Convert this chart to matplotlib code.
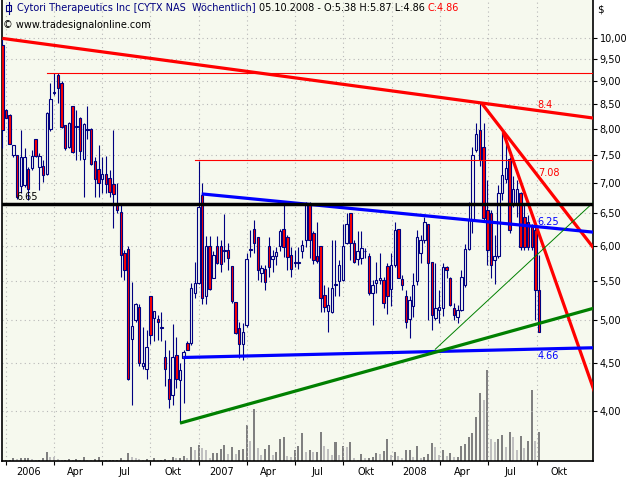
import numpy as np
import pandas as pd
import matplotlib
matplotlib.use('Agg')
import matplotlib.pyplot as plt
import matplotlib.dates as mdates
from matplotlib.ticker import FixedLocator, FuncFormatter, NullLocator, NullFormatter
from matplotlib.lines import Line2D
from matplotlib.patches import Rectangle

# weekly bars of CYTX, each dated by the end of its week
weeks = pd.date_range(end='2008-10-05', periods=146, freq='7D')

opens = [9.84, 8.38, 8.28, 7.50, 7.50, 6.95, 6.97, 7.25, 7.26, 7.80,
         7.28, 7.30, 7.17, 8.00, 8.74, 9.14, 8.97, 8.08, 7.65, 8.47,
         8.04, 8.23, 7.44, 7.99, 8.01, 7.39, 7.25, 7.07, 7.16, 7.10,
         6.99, 6.65, 6.53, 5.90, 5.95, 4.77, 5.00, 5.16, 4.47, 4.43,
         5.30, 5.03, 5.01, 4.90, 4.56, 4.32, 4.16, 4.59, 4.31, 4.55,
         4.73, 4.72, 5.35, 5.48, 6.80, 5.30, 6.00, 5.55, 6.00, 6.00,
         5.93, 5.94, 5.71, 5.23, 4.90, 4.71, 4.94, 5.94, 6.25, 6.13,
         5.62, 5.67, 6.00, 5.81, 5.86, 6.00, 6.25, 6.14, 5.87, 5.76,
         5.75, 5.92, 6.09, 6.66, 6.19, 5.85, 6.00, 5.32, 5.11, 5.10,
         5.45, 5.50, 5.52, 6.04, 6.50, 6.05, 5.81, 5.82, 5.92, 5.85,
         5.34, 5.48, 5.52, 5.52, 5.71, 5.40, 5.72, 6.25, 5.53, 5.30,
         5.01, 5.17, 5.50, 5.89, 6.09, 6.34, 5.77, 5.02, 5.12, 5.15,
         5.70, 5.54, 5.15, 5.04, 5.13, 5.45, 5.96, 6.40, 7.60, 7.98,
         7.66, 6.55, 6.50, 5.80, 5.85, 6.83, 7.08, 7.44, 6.63, 6.66,
         6.83, 6.44, 6.37, 6.29, 6.24, 5.38]
highs = [10.00, 8.40, 8.30, 7.69, 7.51, 7.98, 7.63, 7.29, 7.60, 7.80,
         7.54, 7.41, 8.35, 8.95, 9.19, 9.19, 9.00, 8.08, 8.14, 8.47,
         8.38, 8.24, 8.11, 8.47, 8.02, 7.47, 7.69, 7.47, 7.48, 7.23,
         7.98, 7.00, 6.65, 5.94, 6.00, 5.49, 5.21, 5.20, 4.91, 4.88,
         5.31, 5.11, 5.06, 5.10, 4.76, 4.65, 4.95, 4.80, 4.50, 4.64,
         4.75, 5.48, 5.77, 7.40, 7.00, 6.15, 6.15, 5.92, 6.15, 6.09,
         6.49, 6.04, 5.71, 5.23, 4.97, 4.96, 5.90, 6.24, 6.40, 6.14,
         5.73, 5.73, 6.14, 5.94, 5.99, 6.25, 6.66, 6.16, 5.99, 5.94,
         5.99, 6.09, 6.69, 6.69, 6.22, 6.37, 6.00, 5.45, 5.43, 6.09,
         6.09, 5.80, 6.34, 6.50, 6.51, 6.09, 6.22, 6.22, 5.97, 5.90,
         5.52, 5.77, 5.89, 5.56, 5.75, 5.89, 6.37, 6.26, 5.58, 5.38,
         5.30, 5.62, 6.24, 6.16, 6.45, 6.34, 5.77, 5.76, 5.38, 5.76,
         5.71, 5.56, 5.21, 5.19, 5.66, 6.03, 6.68, 7.66, 8.11, 8.53,
         8.11, 7.06, 6.55, 6.16, 6.97, 7.95, 7.79, 7.47, 7.12, 7.06,
         6.86, 6.63, 6.47, 6.34, 6.29, 5.87]
lows = [7.63, 8.22, 7.71, 7.47, 6.74, 6.83, 6.94, 6.72, 7.23, 7.47,
        6.89, 7.03, 7.14, 7.97, 8.70, 8.53, 8.03, 7.60, 7.63, 7.55,
        7.41, 7.41, 6.77, 7.81, 7.33, 6.77, 6.77, 6.83, 6.83, 6.77,
        6.27, 6.50, 5.56, 5.52, 4.31, 4.06, 4.98, 4.47, 4.43, 4.32,
        4.71, 4.75, 4.76, 4.75, 4.25, 4.03, 4.06, 4.23, 3.88, 4.08,
        4.64, 4.70, 5.28, 5.47, 5.20, 5.20, 5.39, 5.54, 5.74, 5.63,
        5.77, 5.66, 5.21, 4.83, 4.55, 4.53, 4.92, 5.84, 5.89, 5.52,
        5.49, 5.38, 5.56, 5.63, 5.72, 5.92, 5.84, 5.66, 5.56, 5.70,
        5.67, 5.82, 5.99, 5.82, 5.74, 5.76, 5.10, 5.10, 4.85, 5.09,
        5.30, 5.30, 5.51, 6.03, 5.80, 5.75, 5.72, 5.74, 5.82, 5.32,
        4.94, 5.34, 5.46, 5.15, 5.08, 5.18, 5.70, 5.54, 5.38, 4.90,
        4.78, 5.04, 5.45, 5.76, 6.04, 5.00, 4.88, 5.00, 4.96, 5.05,
        5.55, 5.17, 5.00, 4.96, 5.11, 5.43, 5.94, 6.19, 7.57, 7.30,
        6.40, 5.73, 5.54, 5.47, 5.83, 6.72, 7.00, 6.19, 6.60, 6.45,
        5.94, 5.94, 5.94, 5.94, 5.00, 4.86]
closes = [7.98, 8.23, 7.72, 7.69, 6.77, 7.47, 7.47, 6.90, 7.48, 7.48,
          7.48, 7.14, 8.33, 8.61, 8.76, 8.86, 8.05, 7.63, 8.11, 7.57,
          8.05, 7.58, 8.10, 7.98, 7.34, 7.07, 7.00, 7.17, 6.99, 6.85,
          6.81, 6.55, 5.87, 5.65, 4.33, 4.93, 5.20, 4.50, 4.50, 4.68,
          4.82, 5.11, 4.97, 4.91, 4.43, 4.12, 4.56, 4.33, 4.42, 4.62,
          4.65, 5.41, 5.48, 6.61, 5.28, 6.00, 5.40, 5.87, 5.76, 5.74,
          5.94, 5.82, 5.24, 4.84, 4.71, 4.85, 5.81, 5.95, 6.05, 5.66,
          5.68, 5.49, 5.70, 5.85, 5.91, 6.23, 5.99, 5.84, 5.67, 5.75,
          5.76, 6.02, 6.66, 6.09, 5.79, 5.78, 5.28, 5.16, 5.19, 5.41,
          5.45, 5.72, 6.00, 6.34, 6.04, 5.77, 5.92, 5.97, 5.92, 5.35,
          5.45, 5.52, 5.54, 5.21, 5.30, 5.72, 6.24, 5.54, 5.45, 4.98,
          5.25, 5.45, 6.14, 6.09, 6.37, 5.76, 5.06, 5.15, 5.16, 5.70,
          5.65, 5.19, 5.06, 5.13, 5.56, 5.96, 6.40, 7.50, 7.91, 7.41,
          6.43, 5.94, 5.73, 5.85, 6.84, 7.15, 7.26, 6.24, 6.91, 6.91,
          5.99, 5.99, 5.99, 5.99, 5.38, 4.86]
volume = [0.5, 0.5, 0.5, 3, 1.3, 3, 3, 3, 1.7, 0.5,
          1, 3, 9, 4, 3.7, 1.7, 0.5, 1, 2, 1,
          1.3, 0.5, 4, 1, 0.5, 2, 4, 0.5, 0.5, 0.5,
          0.5, 0.5, 3, 1, 8, 4, 3, 1.3, 0.5, 1.7,
          1, 3, 0.5, 0.5, 1.7, 1, 4, 3, 3, 4.3,
          2.7, 14, 10.3, 16, 12.7, 11, 3, 8, 8, 12,
          16, 7, 14, 7, 11, 12, 36, 19.3, 51.7, 13,
          6, 12, 16, 6, 9, 22, 24, 5, 4, 11,
          15, 28, 9, 11, 9, 9, 29, 15, 12, 6,
          19, 6, 15, 14, 19, 3, 1, 7, 3, 3,
          4, 8, 7, 10, 22, 6, 9, 5, 3, 11,
          11, 4, 15, 3, 4, 7, 18, 14, 6, 11,
          5, 8, 4, 4, 15, 17, 24, 28, 44, 68,
          61, 91, 22, 19, 22, 26, 14, 29, 24, 11,
          25, 13, 20, 71, 19.3, 28.3]

quarters = pd.date_range('2006-01-01', '2008-10-01', freq='QS')
quarter_labels = ['2006', 'Apr', 'Jul', 'Okt', '2007', 'Apr', 'Jul', 'Okt',
                  '2008', 'Apr', 'Jul', 'Okt']
price_ticks = np.arange(4.0, 10.01, 0.5)

# drawn trend lines: two anchor points each (date, price), extended to the right edge
line_top_red = [('2005-12-25', 10.00), ('2008-06-18', 8.53)]
line_red_a = [('2008-06-18', 8.53), ('2009-01-12', 6.01)]
line_red_b = [('2008-07-29', 7.94), ('2009-01-12', 4.28)]
line_blue_up = [('2007-01-06', 6.82), ('2009-01-12', 6.21)]
line_blue_low = [('2006-12-02', 4.56), ('2009-01-12', 4.67)]
line_green = [('2006-11-26', 3.88), ('2009-01-12', 5.14)]
line_green_thin = [('2008-03-22', 4.65), ('2009-01-12', 6.65)]
level_high = ('2006-03-19', 9.19)
level_mid = ('2006-12-24', 7.41)
level_support = 6.65

W, H = 640, 480
bg = '#f6f9ee'
navy = '#000080'


def fx(px):
    return px / W


def fy(py):
    return 1 - py / H


x_origin = mdates.date2num(pd.Timestamp('2006-01-01'))
xlim = (x_origin - 7.56, x_origin + 1109.3)


def dnum(d):
    return mdates.date2num(pd.Timestamp(d))


def line_value(points, x):
    (d0, v0), (d1, v1) = points
    x0, x1 = dnum(d0), dnum(d1)
    t = (x - x0) / (x1 - x0)
    return np.exp(np.log(v0) + t * (np.log(v1) - np.log(v0)))


fig = plt.figure(figsize=(6.4, 4.8), dpi=100)
fig.patch.set_facecolor('white')
rect = [fx(2), fy(460.5), (592.7 - 2) / W, 460.5 / H]

# volume panel underneath the price panel
ax_vol = fig.add_axes(rect)
ax_vol.set_facecolor(bg)
vol = np.array(volume)
prev = np.concatenate([[0.0], vol[:-1]])
vol_colors = np.where(vol >= prev, '#808080', '#c0c0c0')
xd = mdates.date2num(weeks)
ax_vol.bar(xd, vol, width=3.8, color=vol_colors, linewidth=0)
ax_vol.set_xlim(xlim)
ax_vol.set_ylim(0, 460.5)
ax_vol.set_xticks([])
ax_vol.set_yticks([])
for s in ax_vol.spines.values():
    s.set_visible(False)

ax = fig.add_axes(rect)
ax.patch.set_visible(False)
ax.set_yscale('log')
ax.set_xlim(xlim)
ax.set_ylim(3.539, 10.99)

# candles
o = np.array(opens)
h = np.array(highs)
l = np.array(lows)
c = np.array(closes)
up = c >= o
body_lo = np.minimum(o, c)
body_hi = np.maximum(np.maximum(o, c), body_lo * 1.002)
ax.vlines(xd, l, h, colors=navy, linewidth=0.8, zorder=3)
ax.bar(xd, body_hi - body_lo, bottom=body_lo, width=4.6,
       color=np.where(up, bg, '#ff0000'), edgecolor=navy, linewidth=0.8,
       zorder=4)

# trend lines
x_end = xlim[1] + 5
for pts, col, lw in [(line_top_red, '#ff0000', 2.3),
                     (line_red_a, '#ff0000', 2.3),
                     (line_red_b, '#ff0000', 2.3),
                     (line_blue_up, '#0000ff', 2.3),
                     (line_blue_low, '#0000ff', 2.3),
                     (line_green, '#008000', 2.3),
                     (line_green_thin, '#008000', 0.7)]:
    xs = np.array([dnum(pts[0][0]), x_end])
    ax.plot(xs, line_value(pts, xs), color=col, linewidth=lw,
            solid_capstyle='butt', zorder=6)

ax.plot([dnum(level_high[0]), x_end], [level_high[1]] * 2, color='#ff0000',
        linewidth=0.8, zorder=5)
ax.plot([dnum(level_mid[0]), x_end], [level_mid[1]] * 2, color='#ff0000',
        linewidth=0.8, zorder=5)
ax.axhline(level_support, color='black', linewidth=2.5, zorder=6)

# value labels at the last bar
x_last = xd[-1]
for pts, txt, col, dy in [(line_top_red, '8.4', '#ff0000', 6),
                          (line_red_a, '7.08', '#ff0000', 5),
                          (line_blue_up, '6.25', '#0000ff', 5),
                          (line_blue_low, '4.66', '#0000ff', -7)]:
    ax.annotate(txt, (x_last, line_value(pts, x_last)), xytext=(-1, dy * 0.72),
                textcoords='offset points', color=col, fontsize=7,
                ha='left', va='center', zorder=7)
ax.annotate('6.65', (dnum('2006-01-20'), level_support), xytext=(0, 7 * 0.72),
            textcoords='offset points', color='black', fontsize=7,
            ha='left', va='center', zorder=7)

# axes and grid
ax.yaxis.tick_right()
ax.yaxis.set_major_locator(FixedLocator(price_ticks))
ax.yaxis.set_minor_locator(NullLocator())
ax.yaxis.set_major_formatter(FuncFormatter(lambda v, p: f'{v:.2f}'.replace('.', ',')))
ax.yaxis.set_minor_formatter(NullFormatter())
ax.tick_params(axis='y', which='major', direction='out', length=3, width=0.8,
               labelsize=7, pad=2, colors='black')

qx = mdates.date2num(quarters)
ax.xaxis.set_major_locator(FixedLocator(qx))
ax.xaxis.set_major_formatter(NullFormatter())
ax.xaxis.set_minor_locator(FixedLocator(qx + 42))
ax.xaxis.set_minor_formatter(FuncFormatter(lambda v, p: quarter_labels[p] if p < len(quarter_labels) else ''))
ax.tick_params(axis='x', which='major', direction='out', length=3, width=0.8)
ax.tick_params(axis='x', which='minor', length=0, labelsize=7, pad=5)

ax.grid(True, which='major', color='#b8b8b8', linestyle=(0, (1, 3)),
        linewidth=0.8, zorder=0)
for s in ax.spines.values():
    s.set_color('black')
    s.set_linewidth(1.2)
ax.spines['top'].set_visible(False)

# header
renderer = fig.canvas.get_renderer()
icon_x = 8.5
fig.add_artist(Line2D([fx(icon_x), fx(icon_x)], [fy(2), fy(14)], color=navy,
                      linewidth=0.8))
fig.add_artist(Rectangle((fx(6), fy(11)), 5 / W, 6 / H, facecolor=bg,
                         edgecolor=navy, linewidth=0.8,
                         transform=fig.transFigure))
t1 = fig.text(fx(17), fy(8), 'Cytori Therapeutics Inc [CYTX NAS  Wöchentlich]',
              color=navy, fontsize=7, va='center', ha='left')
b1 = t1.get_window_extent(renderer)
t2 = fig.text(b1.x1 / W + fx(3), fy(8), '05.10.2008 - O:5.38 H:5.87 L:4.86',
              color='black', fontsize=7, va='center', ha='left')
b2 = t2.get_window_extent(renderer)
fig.text(b2.x1 / W + fx(3), fy(8), 'C:4.86', color='#ff0000', fontsize=7,
         va='center', ha='left')
fig.text(fx(3), fy(25), '© www.tradesignalonline.com', color='black',
         fontsize=7, va='center', ha='left')
fig.text(fx(597), fy(10), '$', color='black', fontsize=7.5, va='center',
         ha='left')

fig.savefig('out.png', dpi=100, facecolor='white')
